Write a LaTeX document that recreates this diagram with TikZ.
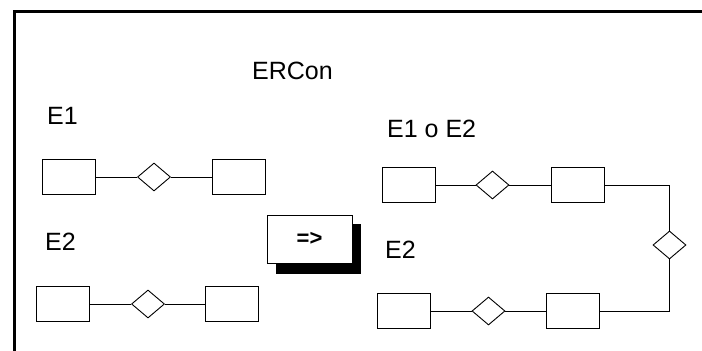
\documentclass[tikz,border=0pt]{standalone}
\usepackage{fontspec}
\setmainfont{Liberation Sans}
\usetikzlibrary{shapes.geometric}
\begin{document}
\begin{tikzpicture}[x=1pt,y=-1pt,
  ent/.style={draw,line width=0.9pt,minimum width=53pt,minimum height=35pt,inner sep=0pt},
  rel/.style={draw,diamond,line width=0.9pt,minimum width=33pt,minimum height=28pt,inner sep=0pt},
  conn/.style={line width=0.9pt},
  lbl/.style={font=\fontsize{25}{25}\selectfont,inner sep=0pt,anchor=base west}]
\useasboundingbox (0,0) rectangle (702,351);
% frame
\draw[line width=3pt] (702,11) -- (14,11) -- (14,351);
% titles
\node[lbl] (t) at (252,79) {ERCon};
\node[lbl] (e1) at (47,124) {E1};
\node[lbl] (e12) at (387,137) {E1 o E2};
\node[lbl] (e2a) at (45,250) {E2};
\node[lbl] (e2b) at (385,258) {E2};
% E1 row
\node[ent] (a1) at (68.5,177) {};
\node[rel] (d1) at (154,177) {};
\node[ent] (b1) at (238.5,177) {};
\draw[conn] (a1) -- (d1) -- (b1);
% E2 row
\node[ent] (a2) at (63,304) {};
\node[rel] (d2) at (148,304) {};
\node[ent] (b2) at (232,304) {};
\draw[conn] (a2) -- (d2) -- (b2);
% button
\fill (276,224) rectangle (361,274);
\node[draw,fill=white,line width=1pt,minimum width=85pt,minimum height=48pt,inner sep=0pt,font=\fontsize{22}{22}\selectfont\bfseries] (btn) at (309.5,239) {=>};
% combined
\node[ent] (c1) at (409,185) {};
\node[rel] (dc1) at (492.5,185) {};
\node[ent] (c2) at (577.5,185) {};
\node[rel] (dr) at (669.5,245) {};
\node[ent] (c4) at (572.5,311) {};
\node[rel] (dc2) at (488.5,311) {};
\node[ent] (c3) at (403.5,311) {};
\draw[conn] (c1) -- (dc1) -- (c2);
\draw[conn] (c2.east) -| (dr.north);
\draw[conn] (dr.south) |- (c4.east);
\draw[conn] (c4) -- (dc2) -- (c3);
\end{tikzpicture}
\end{document}
